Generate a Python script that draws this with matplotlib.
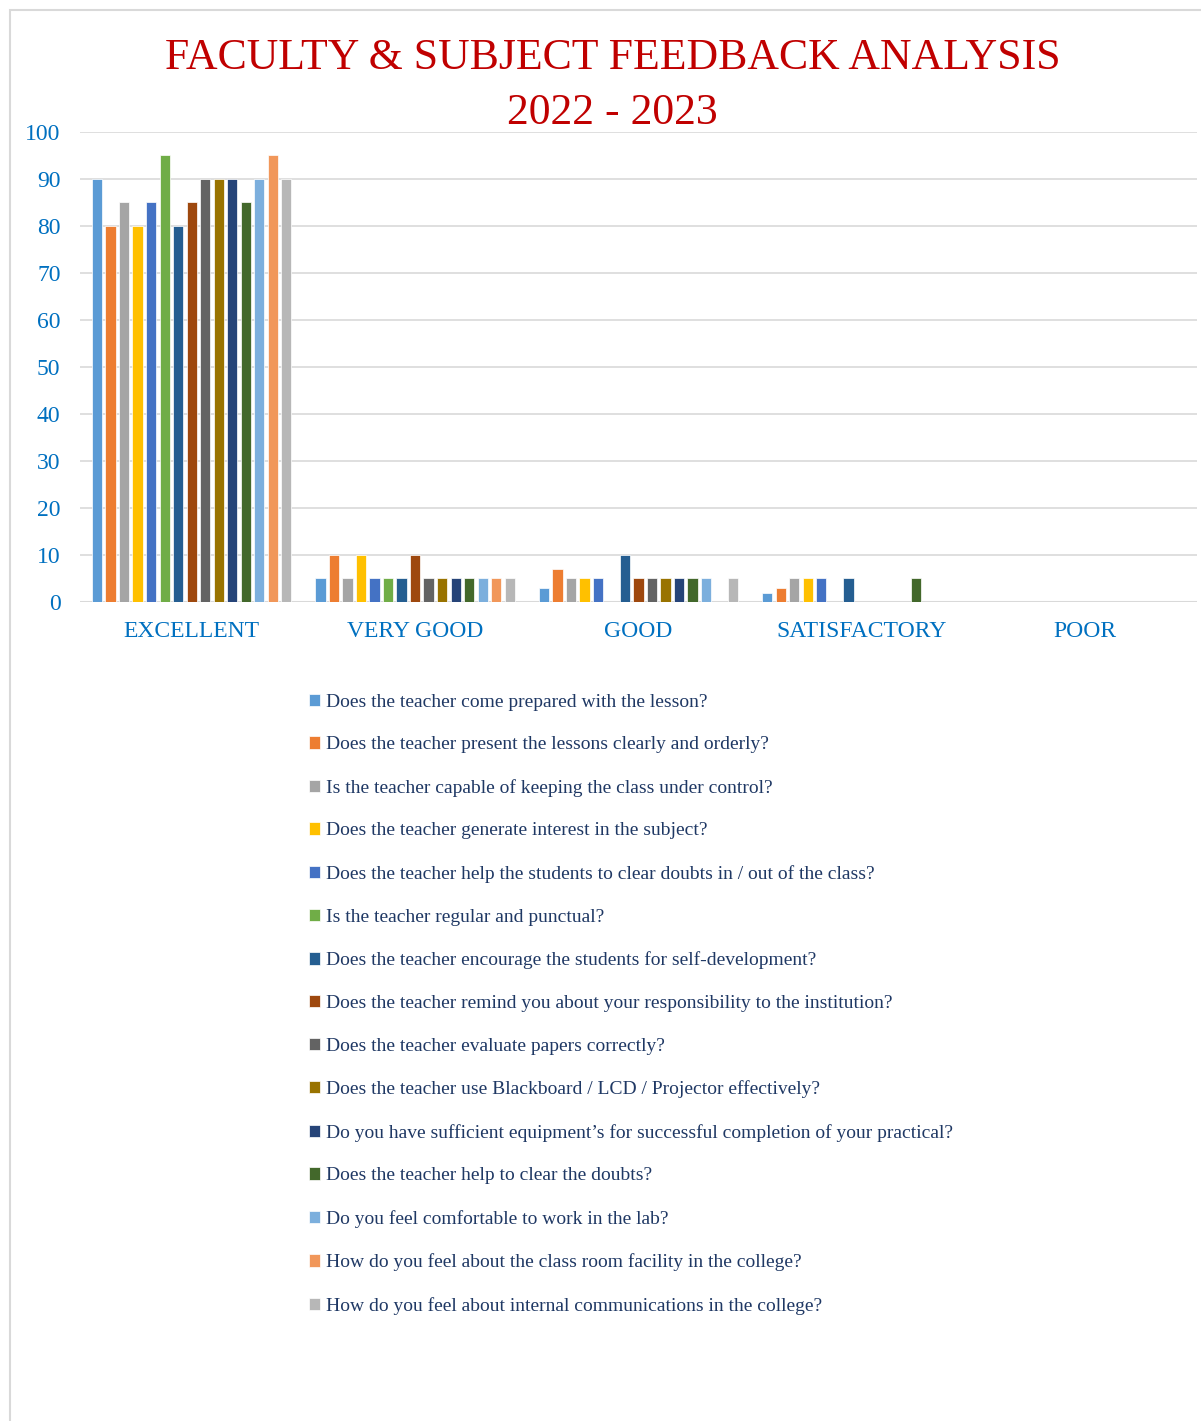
import numpy as np
import matplotlib
matplotlib.use("Agg")
import matplotlib.pyplot as plt
from matplotlib.patches import Rectangle

plt.rcParams['font.family'] = ['Liberation Serif', 'DejaVu Serif']

categories = ["EXCELLENT", "VERY GOOD", "GOOD", "SATISFACTORY", "POOR"]

questions = [
    "Does the teacher come prepared with the lesson?",
    "Does the teacher present the lessons clearly and orderly?",
    "Is the teacher capable of keeping the class under control?",
    "Does the teacher generate interest in the subject?",
    "Does the teacher help the students to clear doubts in / out of the class?",
    "Is the teacher regular and punctual?",
    "Does the teacher encourage the students for self-development?",
    "Does the teacher remind you about your responsibility to the institution?",
    "Does the teacher evaluate papers correctly?",
    "Does the teacher use Blackboard / LCD / Projector effectively?",
    "Do you have sufficient equipment\u2019s for successful completion of your practical?",
    "Does the teacher help to clear the doubts?",
    "Do you feel comfortable to work in the lab?",
    "How do you feel about the class room facility in the college?",
    "How do you feel about internal communications in the college?",
]

# one list per rating category, one value per question
excellent = [90, 80, 85, 80, 85, 95, 80, 85, 90, 90, 90, 85, 90, 95, 90]
very_good = [5, 10, 5, 10, 5, 5, 5, 10, 5, 5, 5, 5, 5, 5, 5]
good = [3, 7, 5, 5, 5, 0, 10, 5, 5, 5, 5, 5, 5, 0, 5]
satisfactory = [2, 3, 5, 5, 5, 0, 5, 0, 0, 0, 0, 5, 0, 0, 0]
poor = [0, 0, 0, 0, 0, 0, 0, 0, 0, 0, 0, 0, 0, 0, 0]

colors = ['#5B9BD5', '#ED7D31', '#A5A5A5', '#FFC000', '#4472C4', '#70AD47',
          '#255E91', '#9E480E', '#636363', '#997300', '#264478', '#43682B',
          '#7CAFDD', '#F1975A', '#B7B7B7']

values = np.array([excellent, very_good, good, satisfactory, poor])

W, H = 1201, 1421
fig = plt.figure(figsize=(W / 100, H / 100), dpi=100)

# outer chart border
fig.patches.append(Rectangle((10 / W, -0.01), 1.2, 1 - 10 / H + 0.01,
                             transform=fig.transFigure, fill=False,
                             edgecolor='#D9D9D9', linewidth=1.5))

ax = fig.add_axes([80 / W, 1 - 602 / H, (1197 - 80) / W, (602 - 132) / H])

x = np.arange(len(categories))
slot = 0.0605
width = 0.046
bars = []
for i, q in enumerate(questions):
    offs = (i - 7) * slot
    b = ax.bar(x + offs, values[:, i], width, color=colors[i],
               edgecolor='white', linewidth=0.5, label=q, zorder=3)
    bars.append(b)

ax.set_xlim(-0.5, 4.5)
ax.set_ylim(0, 100)
ax.set_yticks(range(0, 101, 10))
ax.grid(axis='y', color='#D9D9D9', linewidth=1.2, zorder=0)
for s in ax.spines.values():
    s.set_visible(False)
ax.axhline(0, color='#D9D9D9', linewidth=1.5, zorder=1)
ax.tick_params(axis='both', length=0, labelcolor='#0070C0', labelsize=17)
ax.tick_params(axis='y', pad=14)
ax.tick_params(axis='x', pad=14)
ax.set_xticks(x)
ax.set_xticklabels(categories)

fig.text(0.51, 1 - 58 / H, "FACULTY & SUBJECT FEEDBACK ANALYSIS",
         ha='center', va='center', color='#C00000', fontsize=31.5)
fig.text(0.51, 1 - 113 / H, "2022 - 2023",
         ha='center', va='center', color='#C00000', fontsize=31.5)

leg = fig.legend(handles=[b[0] for b in bars], labels=questions,
                 loc='upper left', bbox_to_anchor=(291 / W, 1 - 676 / H),
                 frameon=False, fontsize=14, handlelength=0.6,
                 handleheight=0.6, handletextpad=0.28,
                 labelspacing=1.32, labelcolor='#1F3864')

fig.savefig("out.png", dpi=100, facecolor='white')
